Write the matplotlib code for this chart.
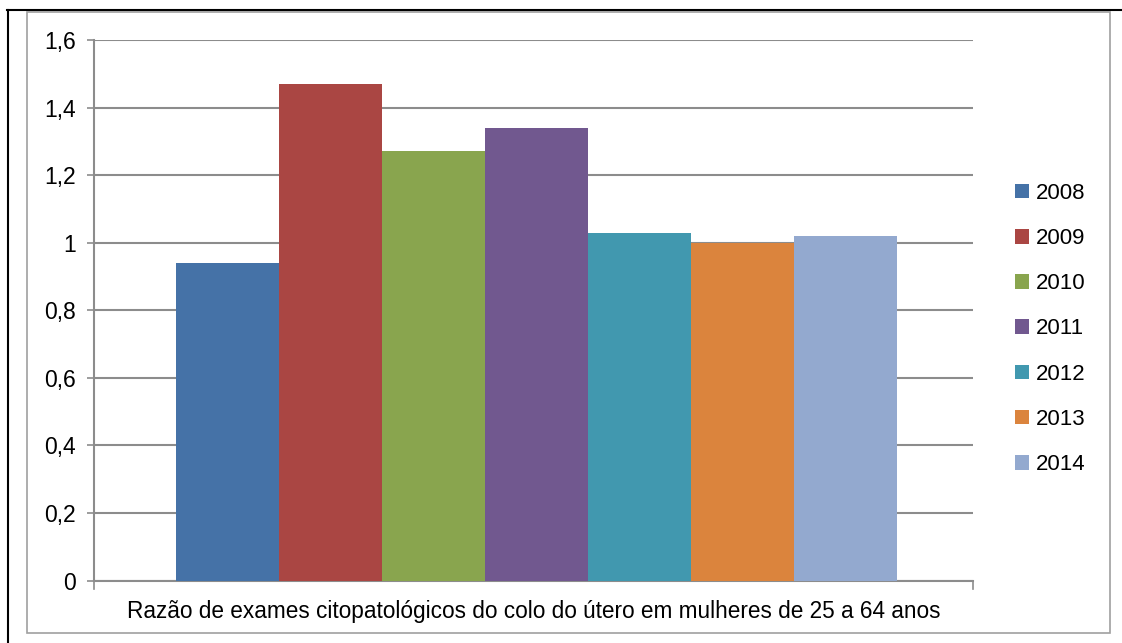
import matplotlib
matplotlib.use("Agg")
import matplotlib.pyplot as plt
from matplotlib.lines import Line2D
from matplotlib.patches import Rectangle, Patch
import numpy as np

years = ["2008", "2009", "2010", "2011", "2012", "2013", "2014"]
values = [0.94, 1.47, 1.27, 1.34, 1.03, 1.00, 1.02]
colors = ["#4572A7", "#AA4643", "#89A54E", "#71588F", "#4198AF", "#DB843D", "#93A9CF"]
yticks = [0, 0.2, 0.4, 0.6, 0.8, 1.0, 1.2, 1.4, 1.6]
ytick_labels = ["0", "0,2", "0,4", "0,6", "0,8", "1", "1,2", "1,4", "1,6"]
xlabel = "Razão de exames citopatológicos do colo do útero em mulheres de 25 a 64 anos"

plt.rcParams['font.family'] = ['Liberation Sans', 'DejaVu Sans']
W, H = 1122, 643
fig = plt.figure(figsize=(W / 100, H / 100), dpi=100)

# frames
fig.add_artist(Rectangle((27 / W, 1 - 633 / H), (1110 - 27) / W, (633 - 12) / H,
                         transform=fig.transFigure, fill=False, edgecolor="#A0A0A0", lw=1.2))
fig.add_artist(Line2D([7 / W, 1], [1 - 10 / H, 1 - 10 / H], transform=fig.transFigure, color="black", lw=1.5))
fig.add_artist(Line2D([8 / W, 8 / W], [0, 1 - 10 / H], transform=fig.transFigure, color="black", lw=1.5))

ax = fig.add_axes([94 / W, 1 - 580.5 / H, 879 / W, 540.5 / H])
x = np.arange(len(years))
bars = ax.bar(x, values, width=1.0, color=colors, zorder=3)
ax.set_xlim(-1.296, 7.238)
ax.set_ylim(0, 1.6)
ax.set_yticks(yticks)
ax.set_yticklabels(ytick_labels, fontsize=16.5)
ax.set_xticks([])
ax.yaxis.grid(True, color="#8C8C8C", lw=1.5, zorder=0)
ax.tick_params(axis="y", length=5, width=1.2, color="#8C8C8C", pad=8)
for s in ["top", "right"]:
    ax.spines[s].set_visible(False)
for s in ["left", "bottom"]:
    ax.spines[s].set_color("#8C8C8C")
    ax.spines[s].set_linewidth(1.5)
# end tick marks on x axis
for xv in ax.get_xlim():
    ax.plot([xv, xv], [0, -0.024], color="#8C8C8C", lw=1.2, clip_on=False, zorder=4)
ax.set_xlabel(xlabel, fontsize=16.3, labelpad=14)

handles = [Patch(facecolor=c, edgecolor="none") for c in colors]
fig.legend(handles, years, loc="center left", bbox_to_anchor=(1015 / W, 1 - 329 / H),
           frameon=False, fontsize=16, borderpad=0, handlelength=0.63, handleheight=0.63,
           handletextpad=0.3, labelspacing=1.09, borderaxespad=0)

fig.savefig("out.png", dpi=100)
